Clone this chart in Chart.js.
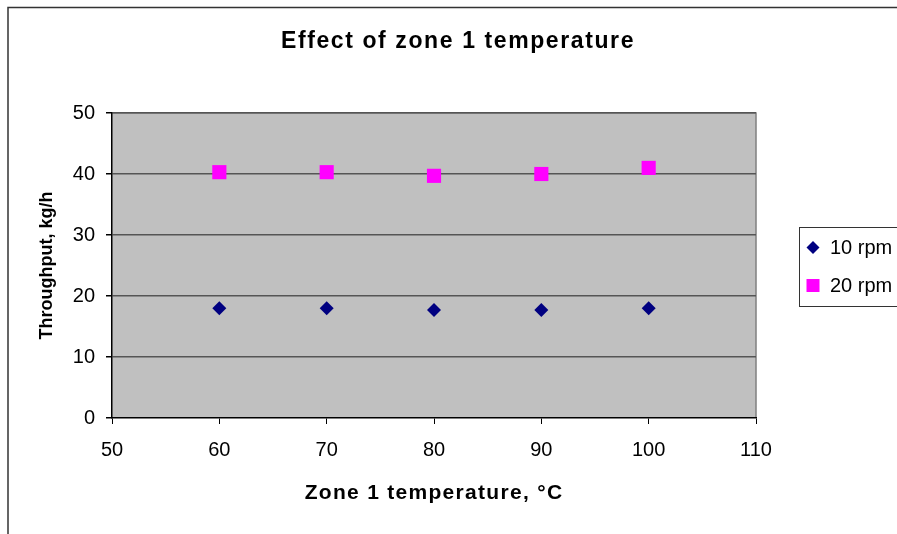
<!DOCTYPE html>
<html>
<head>
<meta charset="utf-8">
<script src="https://cdn.jsdelivr.net/npm/chart.js@4"></script>
<style>
  html, body { margin: 0; padding: 0; background: #fff; overflow: hidden; }
  #wrap { width: 897px; height: 534px; position: relative; }
</style>
</head>
<body>
<div id="wrap"><canvas id="chart" width="897" height="534"></canvas></div>
<script>
// zone 1 temperature (°C) and measured throughput (kg/h)
const temps = [60, 70, 80, 90, 100];
const rpm10 = [18.0, 18.0, 17.7, 17.7, 18.0];
const rpm20 = [40.3, 40.3, 39.7, 40.0, 41.0];
const seriesNames = ['10 rpm', '20 rpm'];
const chartTitle = 'Effect of zone 1 temperature';
const xTitle = 'Zone 1 temperature, °C';
const yTitle = 'Throughput, kg/h';

const FONT = '"Liberation Sans", Arial, sans-serif';

function toPoints(ys){ return temps.map((t,i)=>({x:t, y:ys[i]})); }

// grey plot area, outer frame, titles and legend box
const frame = {
  id: 'frame',
  beforeDraw(chart){
    const {ctx, chartArea:a} = chart;
    ctx.save();
    ctx.fillStyle = '#c0c0c0';
    ctx.fillRect(a.left, a.top, a.right-a.left, a.bottom-a.top);
    ctx.strokeStyle = '#808080';
    ctx.lineWidth = 1.5;
    ctx.beginPath();
    ctx.moveTo(a.left, a.top); ctx.lineTo(a.right, a.top); ctx.lineTo(a.right, a.bottom);
    ctx.stroke();
    // outer chart border
    ctx.strokeStyle = '#333';
    ctx.lineWidth = 1.5;
    ctx.beginPath();
    ctx.moveTo(8, chart.height+2); ctx.lineTo(8, 7.5); ctx.lineTo(chart.width+2, 7.5);
    ctx.stroke();
    ctx.restore();
  },
  afterDraw(chart){
    const {ctx, chartArea:a} = chart;
    ctx.save();
    ctx.fillStyle = '#000';
    ctx.textAlign = 'center';
    ctx.textBaseline = 'middle';
    ctx.font = 'bold 23px ' + FONT;
    ctx.letterSpacing = '1.6px';
    ctx.fillText(chartTitle, 458, 42);
    ctx.font = 'bold 21px ' + FONT;
    ctx.letterSpacing = '1.3px';
    ctx.fillText(xTitle, (a.left+a.right)/2, 493);
    ctx.letterSpacing = '0px';

    // legend
    const lx = 799, ly = 227.5, lh = 79;
    ctx.fillStyle = '#fff';
    ctx.fillRect(lx, ly, chart.width - lx + 5, lh);
    ctx.strokeStyle = '#333';
    ctx.lineWidth = 1;
    ctx.strokeRect(lx+0.5, ly, chart.width - lx + 5, lh);
    ctx.textAlign = 'left';
    ctx.font = '20px ' + FONT;
    chart.data.datasets.forEach((ds, i)=>{
      const cy = ly + 20 + i*38;
      const cx = lx + 14;
      ctx.fillStyle = ds.backgroundColor;
      ctx.beginPath();
      if(ds.pointStyle === 'rectRot'){
        const r = 6.5;
        ctx.moveTo(cx-r, cy); ctx.lineTo(cx, cy-r); ctx.lineTo(cx+r, cy); ctx.lineTo(cx, cy+r);
        ctx.closePath();
      } else {
        ctx.rect(cx-6.5, cy-6.5, 13, 13);
      }
      ctx.fill();
      ctx.fillStyle = '#000';
      ctx.fillText(ds.label, lx + 31, cy + 1);
    });
    ctx.restore();
  }
};

new Chart(document.getElementById('chart'), {
  type: 'scatter',
  data: {
    datasets: [
      { label: seriesNames[0], data: toPoints(rpm10), pointStyle: 'rectRot', pointRadius: 7,
        backgroundColor: '#000080', borderColor: '#000080', borderWidth: 0 },
      { label: seriesNames[1], data: toPoints(rpm20), pointStyle: 'rect', pointRadius: 10,
        backgroundColor: '#ff00ff', borderColor: '#ff00ff', borderWidth: 0 }
    ]
  },
  options: {
    responsive: false,
    animation: false,
    events: [],
    layout: { padding: { left: 0, top: 113, right: 141, bottom: 0 } },
    plugins: { legend: { display: false }, title: { display: false }, tooltip: { enabled: false } },
    scales: {
      x: {
        type: 'linear', min: 50, max: 110,
        ticks: { stepSize: 10, color: '#000', padding: 14, maxRotation: 0,
                 font: { family: FONT, size: 20 } },
        grid: { color: 'transparent', tickColor: '#000', tickLength: 6, drawOnChartArea: false },
        border: { color: '#000', width: 1.5 },
        afterFit(s){ s.height = 116; }
      },
      y: {
        min: 0, max: 50,
        ticks: { stepSize: 10, color: '#000', padding: 11,
                 font: { family: FONT, size: 20 } },
        grid: { color: ctx => ctx.tick.value === 0 ? 'transparent' : '#555', lineWidth: 1.5,
                tickColor: '#000', tickLength: 6 },
        border: { color: '#000', width: 1.5 },
        title: { display: true, text: yTitle, color: '#000',
                 font: { family: FONT, size: 18, weight: 'bold' }, padding: { top: 36, bottom: 0 } },
        afterFit(s){ s.width = 112; }
      }
    }
  },
  plugins: [frame]
});
</script>
</body>
</html>
